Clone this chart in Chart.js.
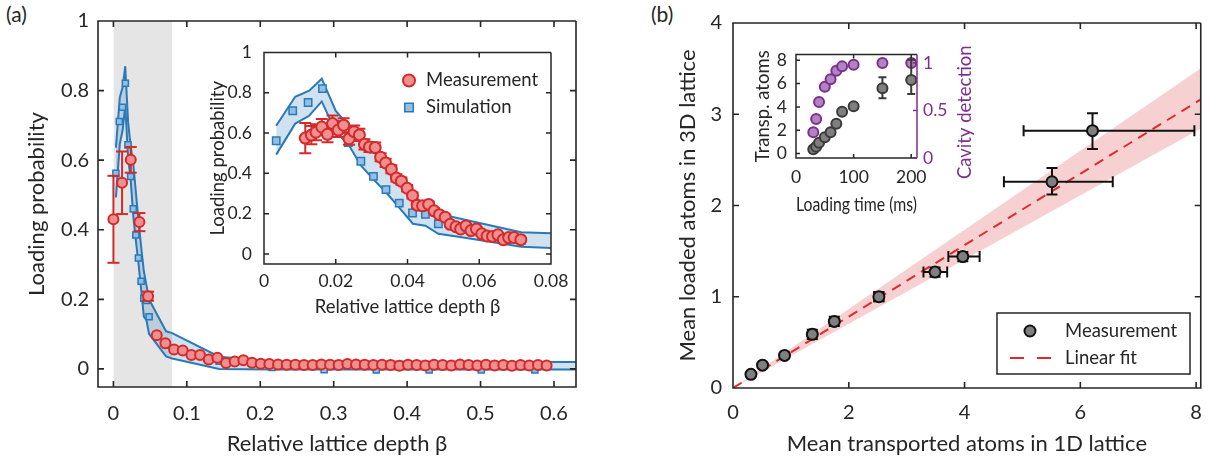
<!DOCTYPE html>
<html>
<head>
<meta charset="utf-8">
<script src="https://cdn.jsdelivr.net/npm/chart.js@4.4.1/dist/chart.umd.min.js"></script>
<style>
  body { margin: 0; background: #fff; width: 1215px; height: 461px; position: relative; overflow: hidden; font-family: Lato, "Open Sans", sans-serif; }
  canvas { position: absolute; }
  .tag { position: absolute; font-size: 21px; color: #262626; }
</style>
</head>
<body>
<div class="tag" style="left:6px;top:1px">(a)</div>
<div class="tag" style="left:651px;top:1px">(b)</div>
<canvas id="mainA" width="600" height="461" style="left:0;top:0"></canvas>
<canvas id="insetA" width="375" height="300" style="left:205px;top:30px"></canvas>
<canvas id="mainB" width="595" height="461" style="left:620px;top:0"></canvas>
<canvas id="insetB" width="245" height="190" style="left:740px;top:35px"></canvas>
<script>
// ---- panel (a): measured loading probability vs relative lattice depth
const measAx = [0, 0.0118, 0.0236, 0.0354, 0.0472, 0.059, 0.0708, 0.0826, 0.0944, 0.1062,
  0.118, 0.1298, 0.1416, 0.1534, 0.1652, 0.177, 0.1888, 0.2006, 0.2124, 0.2242,
  0.236, 0.2478, 0.2596, 0.2714, 0.2832, 0.295, 0.3068, 0.3186, 0.3304, 0.3422,
  0.354, 0.3658, 0.3776, 0.3894, 0.4012, 0.413, 0.4248, 0.4366, 0.4484, 0.4602,
  0.472, 0.4838, 0.4956, 0.5074, 0.5192, 0.531, 0.5428, 0.5546, 0.5664, 0.5782, 0.59];
const measAy = [0.43, 0.535, 0.601, 0.422, 0.209, 0.097, 0.074, 0.056, 0.053, 0.040,
  0.040, 0.027, 0.032, 0.017, 0.021, 0.025, 0.018, 0.015, 0.014, 0.013,
  0.012, 0.012, 0.011, 0.011, 0.013, 0.012, 0.011, 0.014, 0.013, 0.012,
  0.011, 0.012, 0.011, 0.009, 0.012, 0.011, 0.010, 0.012, 0.011, 0.010,
  0.013, 0.011, 0.010, 0.012, 0.010, 0.011, 0.009, 0.011, 0.010, 0.011, 0.010];
const measAerr = [0.125, 0.09, 0.037, 0.026, 0.013];

// inset (a): finer scan
const measIx = [0.0115, 0.0132, 0.0145, 0.0161, 0.0177, 0.0191, 0.0207, 0.0222, 0.0237, 0.0251,
  0.0266, 0.028, 0.0294, 0.031, 0.0325, 0.0339, 0.0355, 0.0369, 0.0383, 0.0399,
  0.0414, 0.0427, 0.0442, 0.0459, 0.0474, 0.0489, 0.0505, 0.0519, 0.0535, 0.0548,
  0.0563, 0.0577, 0.0592, 0.0607, 0.0622, 0.0637, 0.0652, 0.0667, 0.0682, 0.0697, 0.0716];
const measIy = [0.575, 0.59, 0.604, 0.63, 0.594, 0.647, 0.615, 0.639, 0.572, 0.607,
  0.591, 0.544, 0.531, 0.528, 0.48, 0.452, 0.42, 0.377, 0.361, 0.326,
  0.29, 0.242, 0.239, 0.246, 0.214, 0.195, 0.182, 0.147, 0.135, 0.124,
  0.139, 0.116, 0.124, 0.1, 0.089, 0.087, 0.095, 0.071, 0.081, 0.081, 0.071];
const measIerr = [0.075, 0.045, 0.04, 0.04, 0.04, 0.04, 0.035, 0.035, 0.03, 0.03,
  0.03, 0.025, 0.025, 0.025, 0.02, 0.02, 0.02, 0.018, 0.018, 0.016,
  0.015, 0.014, 0.014, 0.014, 0.013, 0.012, 0.012, 0.011, 0.011, 0.01,
  0.01, 0.01, 0.01, 0.01, 0.009, 0.009, 0.009, 0.009, 0.008, 0.008, 0.008];

// simulation (shared by main and inset)
const simX = [0.0034, 0.0080, 0.0123, 0.0163, 0.0198, 0.0235, 0.0270, 0.0305, 0.0340, 0.0377,
  0.0414, 0.0450, 0.0486, 0.0717, 0.144, 0.216, 0.287, 0.358, 0.430, 0.501, 0.574];
const simY = [0.562, 0.711, 0.752, 0.821, 0.644, 0.553, 0.460, 0.385, 0.319, 0.252,
  0.203, 0.197, 0.150, 0.068, 0.022, 0.004, -0.002, -0.003, -0.003, -0.003, -0.003];
const bandX = [0.0034, 0.0087, 0.0126, 0.0161, 0.020, 0.0235, 0.027, 0.0305, 0.034, 0.0378,
  0.0415, 0.045, 0.0486, 0.056, 0.0717, 0.08, 0.144, 0.216, 0.63];
const bandHi = [0.636, 0.78, 0.81, 0.87, 0.71, 0.64, 0.59, 0.51, 0.43, 0.35,
  0.28, 0.24, 0.20, 0.17, 0.108, 0.103, 0.035, 0.022, 0.02];
const bandLo = [0.493, 0.647, 0.686, 0.757, 0.607, 0.544, 0.44, 0.37, 0.306, 0.227,
  0.15, 0.14, 0.10, 0.08, 0.036, 0.03, 0.0, -0.002, -0.002];
const shadeX = [0, 0.08];
const shadeY = [1, 1];

const xTicksA = [0, 0.1, 0.2, 0.3, 0.4, 0.5, 0.6];
const xLabelsA = ['0', '0.1', '0.2', '0.3', '0.4', '0.5', '0.6'];
const yTicksA = [0, 0.2, 0.4, 0.6, 0.8, 1];
const yLabelsA = ['0', '0.2', '0.4', '0.6', '0.8', '1'];
const xTicksI = [0, 0.02, 0.04, 0.06, 0.08];
const xLabelsI = ['0', '0.02', '0.04', '0.06', '0.08'];

// ---- panel (b): loaded vs transported atoms
const bX = [0.31, 0.51, 0.89, 1.37, 1.75, 2.52, 3.49, 3.97, 5.51, 6.21];
const bY = [0.15, 0.25, 0.357, 0.588, 0.73, 1.0, 1.27, 1.44, 2.26, 2.82];
const bXlo = [0.03, 0.03, 0.04, 0.05, 0.06, 0.08, 0.2, 0.25, 0.83, 1.19];
const bXhi = [0.03, 0.03, 0.04, 0.05, 0.06, 0.08, 0.21, 0.29, 1.05, 1.76];
const bYlo = [0.02, 0.02, 0.03, 0.05, 0.05, 0.05, 0.05, 0.05, 0.14, 0.2];
const bYhi = [0.02, 0.02, 0.03, 0.05, 0.05, 0.05, 0.05, 0.05, 0.15, 0.19];
const fitX = [0, 8.1];
const fitY = [0, 3.17];
const fitHi = [0, 3.51];
const fitLo = [0, 2.85];

const xTicksB = [0, 2, 4, 6, 8];
const yTicksB = [0, 1, 2, 3, 4];

// inset (b): loading time scan
const tX = [30, 35, 40, 50, 60, 70, 80, 100, 150, 200];
const tAtoms = [0.36, 0.58, 0.93, 1.40, 1.82, 2.55, 3.58, 4.05, 5.6, 6.3];
const tAtomsLo = [0, 0, 0, 0, 0, 0, 0, 0, 0.85, 1.2];
const tAtomsHi = [0, 0, 0, 0, 0, 0, 0, 0, 0.95, 1.75];
const tCavity = [0.27, 0.41, 0.59, 0.75, 0.83, 0.92, 0.965, 0.983, 1.0, 1.0];
const xTicksT = [0, 100, 200];
const yTicksT = [0, 2, 4, 6, 8];
const y2TicksT = [0, 0.5, 1];
const y2LabelsT = ['0', '0.5', '1'];

const FONT = 'Lato, "Open Sans", sans-serif';
const INK = '#262626';
const RED = '#d42a2a', RED_FILL = '#ef8f8f';
const BLUE = '#2a79b8', BLUE_FILL = '#93c0e2', BAND = 'rgba(42,121,184,0.22)';
const PURPLE = '#7e2f8e', PURPLE_FILL = '#b283c3';

function pts(xs, ys) { return xs.map((x, i) => ({x: x, y: ys[i]})); }
function vBars(xs, ys, lo, hi) {
  const out = [];
  xs.forEach((x, i) => {
    if (!lo[i]) return;
    out.push({x: x, y: ys[i] - lo[i]}, {x: x, y: ys[i] + hi[i]}, {x: x, y: null});
  });
  return out;
}
function hBars(xs, ys, lo, hi) {
  const out = [];
  xs.forEach((x, i) => {
    if (!lo[i]) return;
    out.push({x: x - lo[i], y: ys[i]}, {x: x + hi[i], y: ys[i]}, {x: x, y: null});
  });
  return out;
}

function axis(min, max, ticks, labels, o) {
  return {
    type: 'linear', min: min, max: max, position: o.position,
    grid: {display: false, drawTicks: false},
    border: {display: false},
    afterBuildTicks: s => { s.ticks = ticks.map(v => ({value: v})); },
    afterFit: s => { if (s.isHorizontal()) s.height = o.size; else s.width = o.size; },
    ticks: {
      padding: o.pad, color: o.color || INK, autoSkip: false, maxRotation: 0,
      font: {family: FONT, size: o.fs},
      callback: (v, i) => labels[i]
    },
    title: o.title ? {
      display: true, text: o.title, color: o.color || INK,
      font: {family: FONT, size: o.tfs}, padding: o.tpad
    } : {display: false}
  };
}

// box with inward ticks on all four sides
const frame = {
  id: 'frame',
  beforeDatasetsDraw(chart, args, o) {
    if (!o.white) return;
    const a = chart.chartArea, ctx = chart.ctx;
    ctx.save(); ctx.fillStyle = '#fff';
    ctx.fillRect(a.left, a.top, a.right - a.left, a.bottom - a.top);
    ctx.restore();
  },
  afterDatasetsDraw(chart, args, o) {
    const {ctx, chartArea: a, scales} = chart;
    const L = o.len, xs = scales.x, ys = scales.y;
    ctx.save();
    ctx.lineWidth = o.width;
    ctx.strokeStyle = INK;
    ctx.beginPath();
    xs.ticks.forEach(t => {
      const p = xs.getPixelForValue(t.value);
      ctx.moveTo(p, a.bottom); ctx.lineTo(p, a.bottom - L);
      ctx.moveTo(p, a.top); ctx.lineTo(p, a.top + L);
    });
    ys.ticks.forEach(t => {
      const p = ys.getPixelForValue(t.value);
      ctx.moveTo(a.left, p); ctx.lineTo(a.left + L, p);
      if (!o.right) { ctx.moveTo(a.right, p); ctx.lineTo(a.right - L, p); }
    });
    ctx.moveTo(a.right, a.top); ctx.lineTo(a.left, a.top);
    ctx.lineTo(a.left, a.bottom); ctx.lineTo(a.right, a.bottom);
    if (!o.right) ctx.lineTo(a.right, a.top);
    ctx.stroke();
    if (o.right) {
      const rs = scales[o.right];
      ctx.strokeStyle = o.rightColor;
      ctx.beginPath();
      rs.ticks.forEach(t => {
        const p = rs.getPixelForValue(t.value);
        ctx.moveTo(a.right, p); ctx.lineTo(a.right - L, p);
      });
      ctx.moveTo(a.right, a.top); ctx.lineTo(a.right, a.bottom);
      ctx.stroke();
    }
    ctx.restore();
  }
};

function drawMarker(ctx, d, x, y, r) {
  ctx.beginPath();
  if (d.pointStyle === 'rect') {
    const s = r * Math.SQRT1_2;
    ctx.rect(x - s, y - s, 2 * s, 2 * s);
  } else {
    ctx.arc(x, y, r, 0, 2 * Math.PI);
  }
  ctx.fillStyle = d.pointBackgroundColor; ctx.fill();
  ctx.lineWidth = d.pointBorderWidth; ctx.strokeStyle = d.pointBorderColor; ctx.stroke();
}

// legend drawn inside the plot area
const keyLegend = {
  id: 'keyLegend',
  afterDatasetsDraw(chart, args, o) {
    if (!o.items) return;
    const {ctx, chartArea: a} = chart;
    ctx.save();
    if (o.box) {
      ctx.fillStyle = '#fff';
      ctx.fillRect(a.left + o.box[0], a.top + o.box[1], o.box[2], o.box[3]);
      ctx.strokeStyle = INK; ctx.lineWidth = 1.5;
      ctx.strokeRect(a.left + o.box[0], a.top + o.box[1], o.box[2], o.box[3]);
    }
    o.items.forEach(it => {
      const d = chart.data.datasets[it.ds];
      const y = a.top + it.y;
      if (it.x0 != null) {
        ctx.beginPath();
        ctx.setLineDash(it.dash || d.borderDash); ctx.strokeStyle = d.borderColor; ctx.lineWidth = d.borderWidth;
        ctx.moveTo(a.left + it.x0, y); ctx.lineTo(a.left + it.x1, y); ctx.stroke();
        ctx.setLineDash([]);
      } else {
        drawMarker(ctx, d, a.left + it.x, y, it.r);
      }
      ctx.font = o.size + 'px ' + FONT;
      ctx.fillStyle = INK; ctx.textBaseline = 'middle'; ctx.textAlign = 'left';
      ctx.fillText(d.label, a.left + o.textX, y);
    });
    ctx.restore();
  }
};

// right-hand axis title written bottom-to-top
const sideTitle = {
  id: 'sideTitle',
  afterDraw(chart, args, o) {
    if (!o.text) return;
    const {ctx, chartArea: a} = chart;
    const s = chart.scales[o.scale];
    ctx.save();
    ctx.translate(s.right - o.offset, (a.top + a.bottom) / 2 + 6);
    ctx.rotate(-Math.PI / 2);
    ctx.font = o.size + 'px ' + FONT;
    ctx.fillStyle = o.color; ctx.textAlign = 'center'; ctx.textBaseline = 'middle';
    ctx.fillText(o.text, 0, 0);
    ctx.restore();
  }
};

function base(padding, plugOpts, scales) {
  return {
    responsive: false, animation: false, devicePixelRatio: 1, events: [],
    layout: {padding: padding},
    plugins: Object.assign({legend: {display: false}, tooltip: {enabled: false}}, plugOpts),
    scales: scales
  };
}
const PLUGS = [frame, keyLegend, sideTitle];

// ---- (a) main
new Chart(document.getElementById('mainA'), {
  type: 'line',
  data: {datasets: [
    {label: 'Measurement', data: pts(measAx, measAy), showLine: false, pointStyle: 'circle',
     pointRadius: 5, pointBorderWidth: 2, pointBorderColor: RED, pointBackgroundColor: RED_FILL, order: 0},
    {label: 'err', data: vBars(measAx, measAy, measAerr, measAerr), borderColor: RED, borderWidth: 2,
     pointStyle: 'line', pointRadius: 6, pointBorderWidth: 2, pointBorderColor: RED, order: 1},
    {label: 'Simulation', data: pts(simX, simY), showLine: false, pointStyle: 'rect',
     pointRadius: 4.3, pointBorderWidth: 1.5, pointBorderColor: BLUE, pointBackgroundColor: BLUE_FILL, order: 2},
    {label: 'hi', data: pts(bandX, bandHi), borderColor: BLUE, borderWidth: 2, pointRadius: 0,
     fill: '+1', backgroundColor: BAND, order: 3},
    {label: 'lo', data: pts(bandX, bandLo), borderColor: BLUE, borderWidth: 2, pointRadius: 0, fill: false, order: 4},
    {label: 'shade', data: pts(shadeX, shadeY), borderWidth: 0, pointRadius: 0, fill: 'start',
     backgroundColor: '#e5e5e5', order: 5}
  ]},
  options: base({left: 0, top: 19, right: 24, bottom: 0},
    {frame: {len: 6, width: 1.6}},
    {
      x: axis(-0.021, 0.63, xTicksA, xLabelsA, {position: 'bottom', size: 74, pad: 15, fs: 20, tfs: 22,
         title: 'Relative lattice depth β', tpad: {top: 0, bottom: 4}}),
      y: axis(-0.052, 1, yTicksA, yLabelsA, {position: 'left', size: 98, pad: 9, fs: 20, tfs: 22,
         title: 'Loading probability', tpad: {top: 24, bottom: 0}})
    }),
  plugins: PLUGS
});

// ---- (a) inset
new Chart(document.getElementById('insetA'), {
  type: 'line',
  data: {datasets: [
    {label: 'Measurement', data: pts(measIx, measIy), showLine: false, pointStyle: 'circle',
     pointRadius: 5.5, pointBorderWidth: 2, pointBorderColor: RED, pointBackgroundColor: RED_FILL, order: 0},
    {label: 'err', data: vBars(measIx, measIy, measIerr, measIerr), borderColor: RED, borderWidth: 2,
     pointStyle: 'line', pointRadius: 6, pointBorderWidth: 2, pointBorderColor: RED, order: 1},
    {label: 'Simulation', data: pts(simX, simY), showLine: false, pointStyle: 'rect',
     pointRadius: 5.2, pointBorderWidth: 1.5, pointBorderColor: BLUE, pointBackgroundColor: BLUE_FILL, order: 2},
    {label: 'hi', data: pts(bandX, bandHi), borderColor: BLUE, borderWidth: 2, pointRadius: 0,
     fill: '+1', backgroundColor: BAND, order: 3},
    {label: 'lo', data: pts(bandX, bandLo), borderColor: BLUE, borderWidth: 2, pointRadius: 0, fill: false, order: 4}
  ]},
  options: base({left: 0, top: 14, right: 29, bottom: 0},
    {frame: {len: 5, width: 1.5, white: true},
     keyLegend: {size: 18.5, textX: 162, items: [{ds: 0, x: 145, y: 28, r: 6}, {ds: 2, x: 145, y: 55, r: 6}]}},
    {
      x: axis(0, 0.08, xTicksI, xLabelsI, {position: 'bottom', size: 66, pad: 7, fs: 17.5, tfs: 18.5,
         title: 'Relative lattice depth β', tpad: {top: 0, bottom: 12}}),
      y: axis(-0.05, 1, yTicksA, yLabelsA, {position: 'left', size: 59, pad: 12, fs: 17.5, tfs: 18.5,
         title: 'Loading probability', tpad: {top: 2, bottom: 0}})
    }),
  plugins: PLUGS
});

// ---- (b) main
new Chart(document.getElementById('mainB'), {
  type: 'line',
  data: {datasets: [
    {label: 'Measurement', data: pts(bX, bY), showLine: false, pointStyle: 'circle',
     pointRadius: 5.5, pointBorderWidth: 2, pointBorderColor: '#111', pointBackgroundColor: '#7f7f7f', order: 0},
    {label: 'yerr', data: vBars(bX, bY, bYlo, bYhi), borderColor: '#111', borderWidth: 2,
     pointStyle: 'line', pointRadius: 5.5, pointBorderWidth: 2, pointBorderColor: '#111', order: 1},
    {label: 'xerr', data: hBars(bX, bY, bXlo, bXhi), borderColor: '#111', borderWidth: 2,
     pointStyle: 'line', pointRotation: 90, pointRadius: 5.5, pointBorderWidth: 2, pointBorderColor: '#111', order: 2},
    {label: 'Linear fit', data: pts(fitX, fitY), borderColor: '#df2b2b', borderWidth: 2, borderDash: [10, 7],
     pointRadius: 0, order: 3},
    {label: 'hi', data: pts(fitX, fitHi), borderWidth: 0, pointRadius: 0, fill: '+1',
     backgroundColor: 'rgba(228,90,90,0.28)', order: 4},
    {label: 'lo', data: pts(fitX, fitLo), borderWidth: 0, pointRadius: 0, fill: false, order: 5}
  ]},
  options: base({left: 0, top: 19, right: 8, bottom: 0},
    {frame: {len: 6, width: 1.6},
     keyLegend: {size: 18.5, textX: 332, box: [264, 290, 193, 61],
       items: [{ds: 0, x: 297, y: 308, r: 5.5}, {ds: 3, x0: 277, x1: 318, y: 335, dash: [14, 13]}]}},
    {
      x: axis(0, 8.08, xTicksB, xTicksB.map(String), {position: 'bottom', size: 73, pad: 13, fs: 20, tfs: 22,
         title: 'Mean transported atoms in 1D lattice', tpad: {top: 0, bottom: 4}}),
      y: axis(0, 4, yTicksB, yTicksB.map(String), {position: 'left', size: 113, pad: 11, fs: 20, tfs: 22,
         title: 'Mean loaded atoms in 3D lattice', tpad: {top: 55, bottom: 0}})
    }),
  plugins: PLUGS
});

// ---- (b) inset
new Chart(document.getElementById('insetB'), {
  type: 'line',
  data: {datasets: [
    {label: 'atoms', data: pts(tX, tAtoms), showLine: false, pointStyle: 'circle', yAxisID: 'y',
     pointRadius: 5, pointBorderWidth: 2, pointBorderColor: '#3a3a3a', pointBackgroundColor: '#7f7f7f', order: 0},
    {label: 'err', data: vBars(tX, tAtoms, tAtomsLo, tAtomsHi), yAxisID: 'y', borderColor: '#3a3a3a', borderWidth: 2,
     pointStyle: 'line', pointRadius: 4, pointBorderWidth: 2, pointBorderColor: '#3a3a3a', order: 1},
    {label: 'cavity', data: pts(tX, tCavity), showLine: false, pointStyle: 'circle', yAxisID: 'y2',
     pointRadius: 5, pointBorderWidth: 2, pointBorderColor: PURPLE, pointBackgroundColor: PURPLE_FILL, order: 2}
  ]},
  options: base({left: 0, top: 14, right: 0, bottom: 0},
    {frame: {len: 4, width: 1.5, white: true, right: 'y2', rightColor: PURPLE},
     sideTitle: {text: 'Cavity detection', scale: 'y2', offset: 20, size: 18.5, color: PURPLE}},
    {
      x: axis(0, 210, xTicksT, xTicksT.map(String), {position: 'bottom', size: 67, pad: 9, fs: 17.5, tfs: 18.5,
         title: 'Loading time (ms)', tpad: {top: 0, bottom: 9}}),
      y: axis(-0.38, 8.49, yTicksT, yTicksT.map(String), {position: 'left', size: 56, pad: 9, fs: 17.5, tfs: 18.5,
         title: 'Transp. atoms', tpad: {top: 12, bottom: 0}}),
      y2: axis(0, 1.09, y2TicksT, y2LabelsT, {position: 'right', size: 68, pad: 6, fs: 17.5, color: PURPLE})
    }),
  plugins: PLUGS
});
</script>
</body>
</html>
